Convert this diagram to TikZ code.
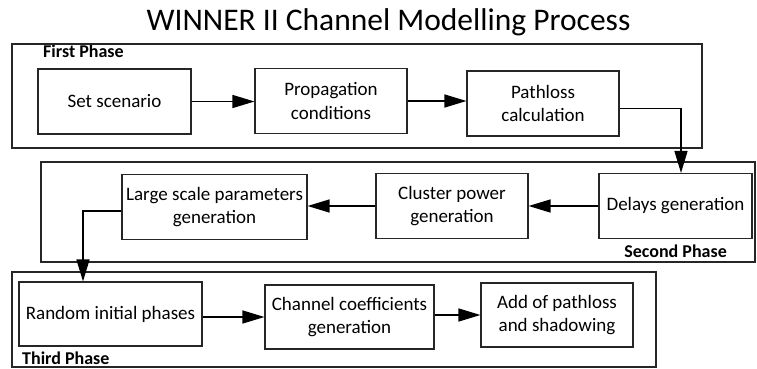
\documentclass[tikz,border=0pt]{standalone}
\usepackage{fontspec}
\setmainfont{Carlito}
\usetikzlibrary{positioning}
\usetikzlibrary{arrows.meta}

\begin{document}
\begin{tikzpicture}[x=1pt,y=-1pt,
    blk/.style={draw=black!85,line width=1.1pt,minimum height=65pt,align=center,
        inner sep=1pt,font=\fontsize{19}{23.5}\selectfont},
    phase/.style={draw=black!85,line width=1.3pt,inner sep=0pt},
    plabel/.style={font=\fontsize{18}{20}\selectfont\bfseries,inner sep=0pt},
    flow/.style={line width=1.3pt,-{Triangle[length=22pt,width=13pt]}}]

    \useasboundingbox (0,0) rectangle (757,369);

    \node[anchor=base] (title) at (388.5,31) {\fontsize{31.5}{36}\selectfont WINNER II Channel Modelling Process};

    % phase labels and frames
    \node[plabel,anchor=base west] (lab1) at (43,58) {First Phase};
    \node[plabel,anchor=base east] (lab2) at (727,257) {Second Phase};
    \node[plabel,anchor=base west] (lab3) at (22,364) {Third Phase};

    \node[phase,minimum width=690pt,minimum height=104pt] (ph1) at (357,96) {};
    \node[phase,minimum width=714pt,minimum height=100pt] (ph2) at (398,212) {};
    \node[phase,minimum width=644pt,minimum height=95pt] (ph3) at (334,319.5) {};

    % first phase
    \node[blk,minimum width=153pt] (setsc) at (114.5,101.5) {Set scenario};
    \node[blk,minimum width=152pt] (propc) at (331,101) {Propagation\\conditions};
    \node[blk,minimum width=152pt] (pathl) at (543,103.5) {Pathloss\\calculation};

    % second phase
    \node[blk,minimum width=185pt] (lsp) at (214.5,207) {Large scale parameters\\generation};
    \node[blk,minimum width=152pt] (clust) at (452,206) {Cluster power\\generation};
    \node[blk,minimum width=153pt] (delay) at (675.5,206) {Delays generation};

    % third phase
    \node[blk,minimum width=183pt,minimum height=64pt] (rndph) at (110.5,314) {Random initial phases};
    \node[blk,minimum width=169pt,minimum height=64pt] (chcoef) at (349.5,317) {Channel coefficients\\generation};
    \node[blk,minimum width=152pt,minimum height=64pt] (addpl) at (557,315) {Add of pathloss\\and shadowing};

    \draw[flow] (setsc) -- (propc.west |- setsc);
    \draw[flow] (propc) -- (pathl.west |- propc);
    \draw[flow] ([yshift=-5pt]pathl.east) -| ([xshift=5.5pt]delay.north);
    \draw[flow] (delay) -- (clust);
    \draw[flow] (clust) -- (lsp.east |- clust);
    \draw[flow] ([yshift=-4pt]lsp.west) -| ([xshift=-27.5pt]rndph.north);
    \draw[flow] (rndph.east |- chcoef) -- (chcoef.west);
    \draw[flow] (chcoef.east |- addpl) -- (addpl.west);

\end{tikzpicture}
\end{document}
